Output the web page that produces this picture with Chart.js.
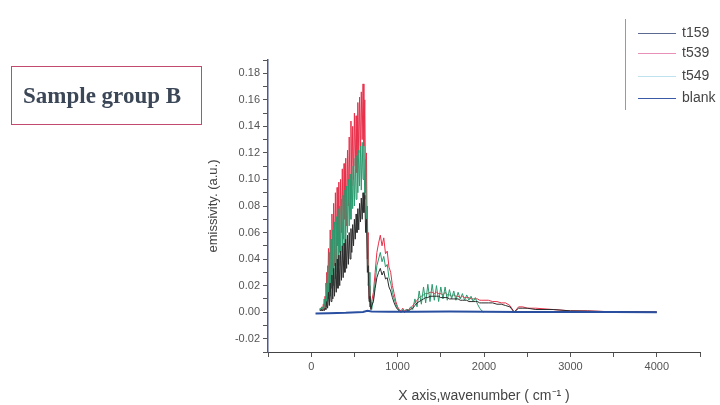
<!DOCTYPE html>
<html lang="en">
<head>
    <meta charset="UTF-8">
    <title>Sample group B emissivity</title>
    <script src="https://cdn.jsdelivr.net/npm/chart.js"></script>
    <style>
        body {
            margin: 0;
            padding: 0;
            background-color: #ffffff;
            font-family: "Liberation Sans", Arial, sans-serif;
        }
        .wrap {
            position: relative;
            width: 720px;
            height: 405px;
        }
        .group-box {
            position: absolute;
            left: 11px;
            top: 66px;
            width: 191px;
            height: 59px;
            border: 1.5px solid #c24a6e;
            box-sizing: border-box;
            font-family: "Liberation Serif", "Times New Roman", serif;
            font-weight: bold;
            font-size: 23px;
            color: #3b4656;
            padding: 16px 0 0 11px;
        }
        .legend {
            position: absolute;
            left: 625px;
            top: 19px;
            width: 100px;
            height: 91px;
            border-left: 1px solid #8a9ac4;
            box-sizing: border-box;
        }
        .legend div {
            position: absolute;
            left: 56px;
            font-size: 14px;
            color: #444;
        }
        .legend span {
            position: absolute;
            left: 12px;
            width: 38px;
            height: 0;
            border-top: 1px solid;
        }
    </style>
</head>
<body>
    <div class="wrap">
        <canvas id="chart" width="720" height="405"></canvas>
        <div class="group-box">Sample group B</div>
        <div class="legend" id="legend"></div>
    </div>

    <script>
        // wavenumber grid (cm-1) shared by the three sample traces
        const wavenumber = [
            100, 110, 120, 130, 140, 150, 160, 170, 180, 190,
            200, 210, 220, 230, 240, 250, 260, 270, 280, 290,
            300, 310, 320, 330, 340, 350, 360, 370, 380, 390,
            400, 410, 420, 430, 440, 450, 460, 470, 480, 490,
            500, 510, 520, 530, 540, 550, 560, 570, 580, 590,
            600, 610, 620, 630, 640, 650, 660, 670, 680, 690, 700,
            720, 740, 760, 780, 800, 820, 840, 860, 880, 900,
            920, 940, 960, 980, 1000, 1020, 1040, 1060, 1080, 1100,
            1125, 1150, 1175, 1200, 1225, 1250, 1275, 1300, 1325, 1350,
            1375, 1400, 1425, 1450, 1475, 1500, 1525, 1550, 1575, 1600,
            1625, 1650, 1675, 1700, 1725, 1750, 1775, 1800, 1825, 1850,
            1875, 1900, 1925, 1950, 1975, 2000,
            2050, 2100, 2150, 2200, 2250, 2300, 2350, 2400, 2450, 2500,
            2600, 2800, 3000, 3200, 3400, 3600, 3800, 4000
        ];

        const t159 = [
            0.002, 0.001, 0.002, 0.001, 0.002, 0.001, 0.003, 0.002, 0.008, 0.003,
            0.015, 0.005, 0.022, 0.008, 0.028, 0.010, 0.033, 0.012, 0.037, 0.015,
            0.040, 0.018, 0.043, 0.020, 0.046, 0.024, 0.050, 0.026, 0.052, 0.030,
            0.055, 0.033, 0.058, 0.036, 0.060, 0.040, 0.063, 0.045, 0.066, 0.050,
            0.070, 0.055, 0.074, 0.060, 0.078, 0.062, 0.082, 0.068, 0.086, 0.070,
            0.090, 0.075, 0.088, 0.060, 0.070, 0.030, 0.035, 0.008, 0.012, 0.002, 0.005,
            0.008, 0.018, 0.026, 0.030, 0.033, 0.028, 0.031, 0.025, 0.026, 0.019,
            0.016, 0.011, 0.007, 0.004, 0.002, 0.001, 0.000, 0.001, 0.000, 0.001,
            0.001, 0.002, 0.003, 0.005, 0.007, 0.008, 0.009, 0.010, 0.011, 0.011,
            0.012, 0.012, 0.012, 0.012, 0.012, 0.011, 0.011, 0.011, 0.011, 0.010,
            0.010, 0.010, 0.010, 0.010, 0.009, 0.009, 0.009, 0.009, 0.008, 0.008,
            0.008, 0.008, 0.008, 0.007, 0.007, 0.007,
            0.007, 0.007, 0.006, 0.006, 0.005, 0.004, 0.000, 0.003, 0.003, 0.003,
            0.002, 0.002, 0.001, 0.0008, 0.0005, 0.0003, 0.0002, 0.0001
        ];

        const t539 = [
            0.003, 0.002, 0.004, 0.001, 0.006, 0.002, 0.012, 0.004, 0.030, 0.008,
            0.048, 0.015, 0.062, 0.020, 0.074, 0.030, 0.082, 0.035, 0.090, 0.040,
            0.094, 0.050, 0.098, 0.045, 0.100, 0.060, 0.108, 0.055, 0.112, 0.070,
            0.116, 0.065, 0.122, 0.080, 0.132, 0.085, 0.144, 0.095, 0.140, 0.100,
            0.150, 0.110, 0.148, 0.105, 0.158, 0.120, 0.162, 0.118, 0.166, 0.130,
            0.172, 0.125, 0.160, 0.090, 0.120, 0.040, 0.060, 0.010, 0.020, 0.003, 0.008,
            0.015, 0.030, 0.045, 0.052, 0.058, 0.050, 0.056, 0.044, 0.046, 0.034,
            0.030, 0.020, 0.014, 0.008, 0.004, 0.002, 0.001, 0.003, 0.001, 0.002,
            0.002, 0.003, 0.005, 0.007, 0.009, 0.011, 0.012, 0.013, 0.014, 0.014,
            0.015, 0.015, 0.014, 0.015, 0.014, 0.014, 0.013, 0.015, 0.013, 0.013,
            0.012, 0.013, 0.012, 0.012, 0.011, 0.012, 0.011, 0.011, 0.011, 0.010,
            0.010, 0.010, 0.010, 0.009, 0.009, 0.009,
            0.009, 0.008, 0.008, 0.007, 0.007, 0.005, 0.000, 0.004, 0.004, 0.003,
            0.003, 0.002, 0.001, 0.001, 0.0005, 0.0003, 0.0002, 0.0001
        ];

        const t549 = [
            0.001, 0.003, 0.001, 0.004, 0.002, 0.010, 0.003, 0.022, 0.006, 0.035,
            0.010, 0.045, 0.012, 0.055, 0.018, 0.062, 0.020, 0.068, 0.025, 0.072,
            0.030, 0.078, 0.035, 0.080, 0.040, 0.085, 0.045, 0.088, 0.050, 0.092,
            0.055, 0.095, 0.060, 0.100, 0.065, 0.104, 0.070, 0.110, 0.078, 0.112,
            0.080, 0.116, 0.085, 0.118, 0.090, 0.122, 0.095, 0.125, 0.092, 0.128,
            0.100, 0.125, 0.085, 0.115, 0.060, 0.080, 0.020, 0.030, 0.004, 0.008, 0.002,
            0.010, 0.022, 0.035, 0.040, 0.045, 0.038, 0.042, 0.034, 0.036, 0.026,
            0.022, 0.015, 0.010, 0.006, 0.003, 0.001, 0.000, 0.002, 0.000, 0.002,
            0.001, 0.004, 0.002, 0.010, 0.004, 0.016, 0.006, 0.019, 0.007, 0.021,
            0.008, 0.021, 0.009, 0.020, 0.008, 0.019, 0.010, 0.019, 0.009, 0.017,
            0.010, 0.016, 0.009, 0.015, 0.010, 0.014, 0.009, 0.013, 0.009, 0.012,
            0.008, 0.011, 0.006, 0.003, 0.001, 0.000,
            null, null, null, null, null, null, null, null, null, null,
            null, null, null, null, null, null, null, null
        ];

        // blank reference, coarser sampling
        const blankX = [50, 200, 400, 600, 650, 700, 900, 1200, 1600, 2000, 2400, 3000, 3500, 4000];
        const blankY = [-0.001, -0.0008, -0.0005, 0.0002, 0.001, 0.0005, 0.0003, 0.0004, 0.0005, 0.0003, 0.0002, 0.0001, 0.0001, 0.0];

        const seriesNames = ['t159', 't539', 't549', 'blank'];
        const seriesColors = ['#2b2b2b', '#e8304a', '#2a9a6e', '#2a4fa0'];
        const legendColors = ['#5a6a90', '#e890b8', '#bfe2ee', '#3a5aa8'];

        const yTicks = [-0.02, 0.00, 0.02, 0.04, 0.06, 0.08, 0.10, 0.12, 0.14, 0.16, 0.18];
        const xTicks = [0, 1000, 2000, 3000, 4000];

        function toPoints(xs, ys) {
            return xs.map((x, i) => ({ x: x, y: ys[i] }));
        }

        const ctx = document.getElementById('chart').getContext('2d');

        new Chart(ctx, {
            type: 'line',
            data: {
                datasets: [
                    {
                        label: 'blank',
                        data: toPoints(blankX, blankY),
                        borderColor: seriesColors[3],
                        borderWidth: 2,
                        order: 0
                    },
                    {
                        label: 't159',
                        data: toPoints(wavenumber, t159),
                        borderColor: seriesColors[0],
                        borderWidth: 1,
                        order: 1
                    },
                    {
                        label: 't549',
                        data: toPoints(wavenumber, t549),
                        borderColor: seriesColors[2],
                        borderWidth: 1,
                        order: 2
                    },
                    {
                        label: 't539',
                        data: toPoints(wavenumber, t539),
                        borderColor: seriesColors[1],
                        borderWidth: 1,
                        order: 3
                    }
                ]
            },
            options: {
                responsive: false,
                animation: false,
                spanGaps: false,
                elements: {
                    point: { radius: 0 },
                    line: { tension: 0 }
                },
                layout: {
                    padding: { top: 60, right: 20, left: 0, bottom: 0 }
                },
                plugins: {
                    legend: { display: false },
                    tooltip: { enabled: false }
                },
                scales: {
                    x: {
                        type: 'linear',
                        min: -500,
                        max: 4500,
                        ticks: {
                            stepSize: 500,
                            color: '#555',
                            font: { family: 'Liberation Sans', size: 11 },
                            maxRotation: 0,
                            autoSkip: false,
                            callback: v => xTicks.includes(v) ? String(v) : ''
                        },
                        grid: {
                            drawOnChartArea: false,
                            tickLength: 5,
                            color: '#555'
                        },
                        border: { color: '#444', width: 1 },
                        title: {
                            display: true,
                            text: 'X axis,wavenumber ( cm\u207B\u00B9 )',
                            color: '#444',
                            font: { family: 'Liberation Sans', size: 14 },
                            padding: { top: 0, bottom: 0 }
                        },
                        afterFit: scale => { scale.height = 53; }
                    },
                    y: {
                        min: -0.03,
                        max: 0.19,
                        ticks: {
                            stepSize: 0.01,
                            color: '#555',
                            font: { family: 'Liberation Sans', size: 11 },
                            autoSkip: false,
                            callback: v => {
                                const r = Math.round(v * 100) / 100;
                                return yTicks.some(t => Math.abs(t - r) < 1e-6) ? r.toFixed(2) : '';
                            }
                        },
                        grid: {
                            drawOnChartArea: false,
                            tickLength: 5,
                            color: '#555'
                        },
                        border: { color: '#4a5a90', width: 1.5 },
                        title: {
                            display: true,
                            text: 'emissivity. (a.u.)',
                            color: '#444',
                            font: { family: 'Liberation Sans', size: 13 },
                            padding: { top: 206, bottom: 0 }
                        },
                        afterFit: scale => { scale.width = 268; }
                    }
                }
            }
        });

        // legend drawn as html so it can sit in the top right corner like the original
        const legendEl = document.getElementById('legend');
        const legendTops = [13, 33, 56, 78];
        seriesNames.forEach((name, i) => {
            const line = document.createElement('span');
            line.style.top = (legendTops[i] + 1) + 'px';
            line.style.borderColor = legendColors[i];
            legendEl.appendChild(line);
            const label = document.createElement('div');
            label.style.top = (legendTops[i] - 8) + 'px';
            label.textContent = name;
            legendEl.appendChild(label);
        });
    </script>
</body>
</html>
